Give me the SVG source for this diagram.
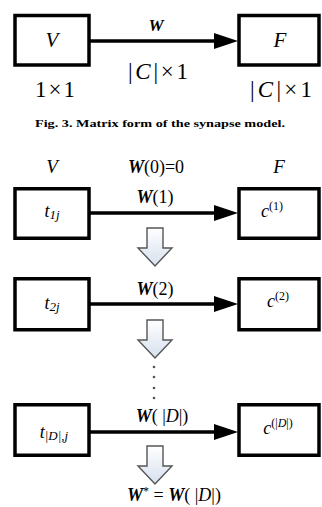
<svg xmlns="http://www.w3.org/2000/svg" width="322" height="507" viewBox="0 0 322 507">
<style>
.box{fill:#fff;stroke:#000;stroke-width:3.5}
.ln{stroke:#000;stroke-width:3.5;fill:none}
.t{font-family:"Liberation Serif","Times New Roman",serif;fill:#000}
.it{font-style:italic}
.bi{font-style:italic;font-weight:bold}
.flow{fill:url(#g);stroke:#555;stroke-width:1.4;stroke-linejoin:miter}
</style>
<defs>
<linearGradient id="g" x1="0" y1="0" x2="0" y2="1">
<stop offset="0" stop-color="#ffffff"/>
<stop offset="1" stop-color="#d6e0ee"/>
</linearGradient>
<path id="ah" d="M0,0 L-24,-8 L-24,8 Z" fill="#000"/>
<path id="fa" d="M-8,0 L8,0 L8,20 L17,20 L0,38 L-17,20 L-8,20 Z"/>
</defs>
<rect width="322" height="507" fill="#fff"/>

<!-- Top figure -->
<g id="n_V">
<rect class="box" x="15" y="15.5" width="74" height="49.5"/>
<text class="t it" x="52" y="47" font-size="21" text-anchor="middle">V</text>
<text class="t" x="55" y="97" font-size="23" text-anchor="middle" textLength="40" lengthAdjust="spacing">1×1</text>
</g>
<g id="n_F">
<rect class="box" x="239" y="15.5" width="80" height="49.5"/>
<text class="t it" x="280" y="47" font-size="21" text-anchor="middle">F</text>
<text class="t" x="281" y="97" font-size="23" text-anchor="middle" textLength="62" lengthAdjust="spacing">|<tspan class="it">C</tspan>|×1</text>
</g>

<!-- Row 1 -->
<g id="n_t1">
<rect class="box" x="15" y="188.75" width="74" height="49.5"/>
<text class="t it" x="52" y="217" font-size="18" text-anchor="middle">t<tspan font-size="13" dy="2">1j</tspan></text>
</g>
<g id="n_c1">
<rect class="box" x="239" y="188.75" width="80" height="49.5"/>
<text class="t" x="272" y="217" font-size="18" text-anchor="middle"><tspan class="it">c</tspan><tspan font-size="12" dy="-7">(1)</tspan></text>
</g>

<!-- Row 2 -->
<g id="n_t2">
<rect class="box" x="15" y="278.75" width="74" height="51"/>
<text class="t it" x="52" y="309" font-size="18" text-anchor="middle">t<tspan font-size="13" dy="2">2j</tspan></text>
</g>
<g id="n_c2">
<rect class="box" x="239" y="278.75" width="80" height="51"/>
<text class="t" x="278" y="307" font-size="18" text-anchor="middle"><tspan class="it">c</tspan><tspan font-size="12" dy="-7">(2)</tspan></text>
</g>

<!-- Row 3 -->
<g id="n_tD">
<rect class="box" x="15" y="404.75" width="74" height="50.5"/>
<text class="t it" x="54" y="438" font-size="18" text-anchor="middle">t<tspan font-size="13" dy="2">|D|,j</tspan></text>
</g>
<g id="n_cD">
<rect class="box" x="239" y="404.75" width="80" height="50.5"/>
<text class="t" x="278" y="434" font-size="18" text-anchor="middle"><tspan class="it">c</tspan><tspan font-size="12" dy="-7">(|<tspan class="it">D</tspan>|)</tspan></text>
</g>

<!-- Connectors -->
<g id="connectors">
<line class="ln" x1="90" y1="41" x2="216" y2="41"/>
<use href="#ah" x="238" y="41"/>
<line class="ln" x1="90" y1="213" x2="216" y2="213"/>
<use href="#ah" x="238" y="213"/>
<line class="ln" x1="90" y1="304" x2="216" y2="304"/>
<use href="#ah" x="238" y="304"/>
<line class="ln" x1="90" y1="432" x2="216" y2="432"/>
<use href="#ah" x="238" y="432"/>
<use href="#fa" class="flow" x="155" y="228"/>
<use href="#fa" class="flow" x="155" y="320"/>
<use href="#fa" class="flow" x="155" y="446"/>
<g fill="#555">
<circle cx="154" cy="367" r="1.3"/>
<circle cx="154" cy="377" r="1.3"/>
<circle cx="154" cy="388" r="1.3"/>
<circle cx="154" cy="398" r="1.3"/>
</g>
</g>

<!-- Labels -->
<g id="labels">
<text class="t bi" x="156" y="31" font-size="17" text-anchor="middle">W</text>
<text class="t" x="158" y="79" font-size="23" text-anchor="middle" textLength="60" lengthAdjust="spacing">|<tspan class="it">C</tspan>|×1</text>
<text class="t" x="160" y="127" font-size="10" font-weight="bold" text-anchor="middle" textLength="250" lengthAdjust="spacingAndGlyphs">Fig. 3. Matrix form of the synapse model.</text>

<text class="t it" x="52" y="173" font-size="19" text-anchor="middle">V</text>
<text class="t it" x="279" y="173" font-size="19" text-anchor="middle">F</text>
<text class="t" x="156" y="173" font-size="18" text-anchor="middle"><tspan class="bi">W</tspan>(0)=0</text>
<text class="t" x="155" y="203" font-size="18" text-anchor="middle"><tspan class="bi">W</tspan>(1)</text>
<text class="t" x="155" y="295" font-size="18" text-anchor="middle"><tspan class="bi">W</tspan>(2)</text>
<text class="t" x="162" y="422" font-size="18" text-anchor="middle"><tspan class="bi">W</tspan>( |<tspan class="it">D</tspan>|)</text>
<text class="t" x="174" y="501" font-size="18" text-anchor="middle"><tspan class="bi">W</tspan><tspan font-size="12" dy="-6">*</tspan><tspan dy="6"> =  </tspan><tspan class="bi">W</tspan>( |<tspan class="it">D</tspan>|)</text>
</g>
</svg>
